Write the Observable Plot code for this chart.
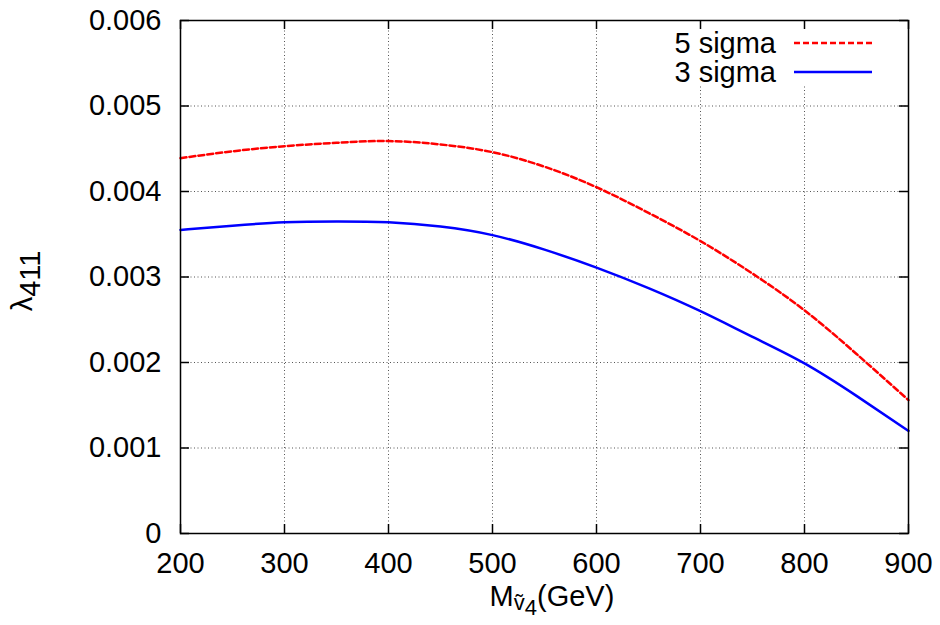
<!DOCTYPE html>
<html><head><meta charset="utf-8">
<script src="https://cdn.jsdelivr.net/npm/d3@7"></script>
<script src="https://cdn.jsdelivr.net/npm/@observablehq/plot@0.6"></script>
<style>body{margin:0;background:#fff} #chart svg{font-family:"Liberation Sans",Arial,sans-serif}</style>
</head><body><div id="chart"></div>
<script>
const masses = [200,250,300,350,400,450,500,550,600,650,700,750,800,850,900];
const sigma5 = [0.00439,0.00447,0.00453,0.00457,0.00459,0.00455,0.00446,0.00429,0.00405,0.00375,0.00342,0.00304,0.00261,0.00210,0.00156];
const sigma3 = [0.00355,0.00360,0.00364,0.00365,0.00364,0.00359,0.00349,0.00332,0.00311,0.00287,0.00260,0.00230,0.00199,0.00161,0.00120];
const xTicks = [200,300,400,500,600,700,800,900];
const yTicks = [0,0.001,0.002,0.003,0.004,0.005,0.006];
const yTickLabels = ["0","0.001","0.002","0.003","0.004","0.005","0.006"];
const seriesNames = ["5 sigma","3 sigma"];
const seriesColors = ["#ff0000","#0000ff"];

const W = 940, H = 625, mL = 180, mR = 32, mT = 20, mB = 92;
const pw = W - mL - mR, ph = H - mT - mB;
const d5 = masses.map((m,i)=>({m, v:sigma5[i]}));
const d3s = masses.map((m,i)=>({m, v:sigma3[i]}));
const tick = 9;
const fs = 29;

const plot = Plot.plot({
  width: W, height: H,
  marginLeft: mL, marginRight: mR, marginTop: mT, marginBottom: mB,
  style: {fontSize: fs + "px", fontFamily: "'Liberation Sans', Arial, sans-serif", color: "#000", background: "#fff"},
  x: {domain: [200, 900]},
  y: {domain: [0, 0.006]},
  marks: [
    Plot.gridX(xTicks.slice(1,-1), {stroke:"#555", strokeOpacity:1, strokeDasharray:"1,2.5", strokeWidth:1}),
    Plot.gridY(yTicks.slice(1,-1), {stroke:"#555", strokeOpacity:1, strokeDasharray:"1,2.5", strokeWidth:1}),
    Plot.ruleX(xTicks, {x:d=>d, insetTop: ph - tick, stroke:"#000", strokeWidth:1.5}),
    Plot.ruleX(xTicks, {x:d=>d, insetBottom: ph - tick, stroke:"#000", strokeWidth:1.5}),
    Plot.ruleY(yTicks, {y:d=>d, insetRight: pw - tick, stroke:"#000", strokeWidth:1.5}),
    Plot.ruleY(yTicks, {y:d=>d, insetLeft: pw - tick, stroke:"#000", strokeWidth:1.5}),
    Plot.axisX(xTicks, {anchor:"bottom", tickSize:0, tickPadding:19, label:null}),
    Plot.axisY(yTicks, {anchor:"left", tickSize:0, tickPadding:19, label:null, tickFormat:(d)=>yTickLabels[yTicks.indexOf(d)]}),
    Plot.line(d5, {x:"m", y:"v", stroke:seriesColors[0], strokeWidth:2.5, strokeDasharray:"6,3", curve:"natural"}),
    Plot.line(d3s, {x:"m", y:"v", stroke:seriesColors[1], strokeWidth:2.5, curve:"natural"}),
    Plot.frame({stroke:"#000", strokeWidth:1.5})
  ]
});
document.getElementById("chart").appendChild(plot);

const svg = d3.select(plot);
// legend
const lg = svg.append("g");
lg.append("rect").attr("x", 655).attr("y", 29).attr("width", 245).attr("height", 57).attr("fill", "#fff");
seriesNames.forEach((name, i) => {
  const y = 43 + i*29;
  lg.append("text").attr("x", 776).attr("y", y).attr("dy", "0.35em").attr("text-anchor","end")
    .attr("font-size", fs).attr("fill","#000").text(name);
  lg.append("line").attr("x1", 794).attr("x2", 872).attr("y1", y).attr("y2", y)
    .attr("stroke", seriesColors[i]).attr("stroke-width", 2.5)
    .attr("stroke-dasharray", i === 0 ? "6,3" : null);
});
// x axis title
const xt = svg.append("text").attr("x", 552).attr("y", 606).attr("text-anchor","middle")
  .attr("font-size", fs).attr("fill","#000");
xt.append("tspan").text("M");
xt.append("tspan").attr("font-size", 22).attr("dy", 4).text("v\u0303");
xt.append("tspan").attr("font-size", 22).attr("dy", 5).text("4");
xt.append("tspan").attr("dy", -9).text("(GeV)");
// y axis title
const yt = svg.append("text").attr("transform", "translate(32,281) rotate(-90)").attr("text-anchor","middle")
  .attr("font-size", fs).attr("fill","#000");
yt.append("tspan").text("\u03bb");
yt.append("tspan").attr("dy", 8).text("411");
</script>
</body></html>
